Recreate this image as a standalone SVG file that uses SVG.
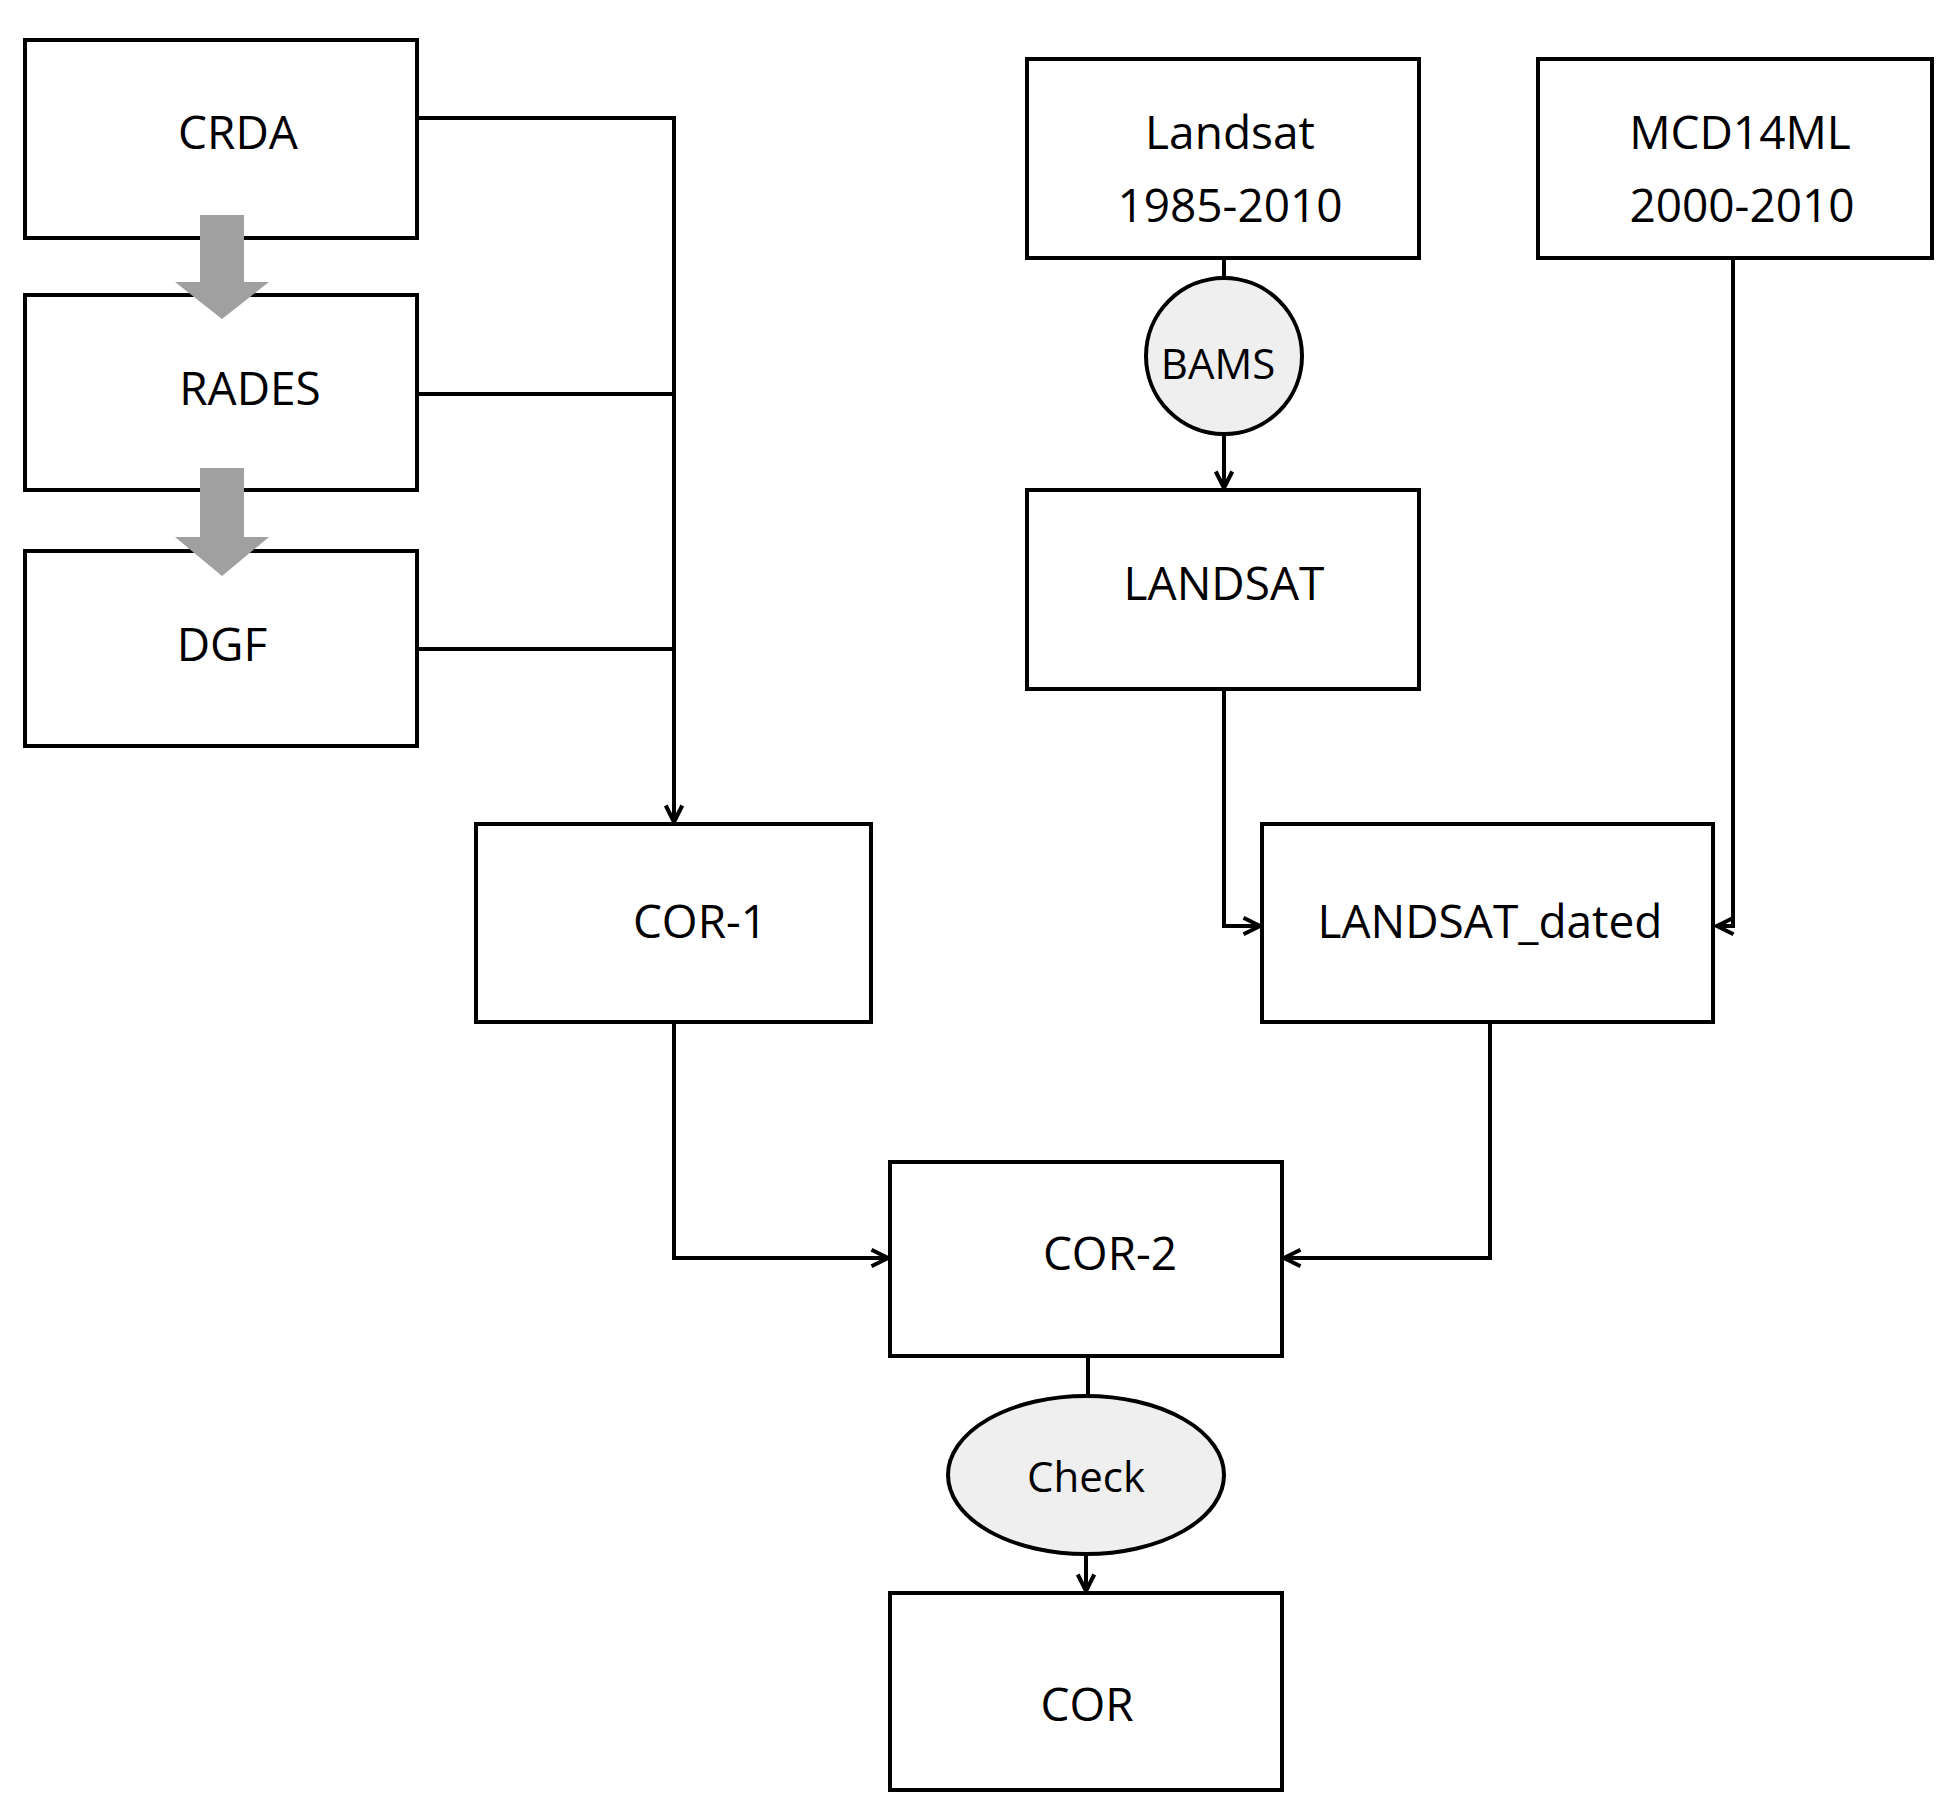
<svg xmlns="http://www.w3.org/2000/svg" width="1953" height="1808" viewBox="0 0 1953 1808">
<style>
.b{fill:#fff;stroke:#000;stroke-width:4}
.e{fill:#efefef;stroke:#000;stroke-width:4}
.t{font-family:"Open Sans","Liberation Sans",sans-serif;font-size:46px;fill:#000;text-anchor:middle;dominant-baseline:central}
.c{fill:none;stroke:#000;stroke-width:4}
.g{fill:#a0a0a0}
</style>
<defs>
<marker id="a" viewBox="0 0 12 12" refX="11" refY="6" markerWidth="22" markerHeight="22" orient="auto" markerUnits="userSpaceOnUse"><path d="M2,1.5 L11,6 L2,10.5" fill="none" stroke="#000" stroke-width="2.2"/></marker>
</defs>
<rect width="1953" height="1808" fill="#fff"/>
<g id="CRDA"><rect class="b" x="25" y="40" width="392" height="198"/><text class="t" x="238" y="131">CRDA</text></g>
<g id="RADES"><rect class="b" x="25" y="295" width="392" height="195"/><text class="t" x="250" y="387">RADES</text></g>
<g id="DGF"><rect class="b" x="25" y="551" width="392" height="195"/><text class="t" x="222" y="643">DGF</text></g>
<g id="gray-arrows">
<polygon class="g" points="200,215 244,215 244,282 269,282 222,319 175,282 200,282"/>
<polygon class="g" points="200,468 244,468 244,537 269,537 222,576 175,537 200,537"/>
</g>
<g id="COR-1"><rect class="b" x="476" y="824" width="395" height="198"/><text class="t" x="700" y="920">COR-1</text></g>
<g id="Landsat"><rect class="b" x="1027" y="59" width="392" height="199"/><text class="t" x="1230" y="131">Landsat</text><text class="t" x="1230" y="204">1985-2010</text></g>
<g id="MCD14ML"><rect class="b" x="1538" y="59" width="394" height="199"/><text class="t" x="1740" y="131">MCD14ML</text><text class="t" x="1742" y="204">2000-2010</text></g>
<g id="BAMS"><circle class="e" cx="1224" cy="356" r="78"/><text class="t" x="1218" y="362" style="font-size:42px">BAMS</text></g>
<g id="LANDSAT"><rect class="b" x="1027" y="490" width="392" height="199"/><text class="t" x="1224" y="582">LANDSAT</text></g>
<g id="LANDSAT_dated"><rect class="b" x="1262" y="824" width="451" height="198"/><text class="t" x="1490" y="920">LANDSAT_dated</text></g>
<g id="COR-2"><rect class="b" x="890" y="1162" width="392" height="194"/><text class="t" x="1110" y="1252">COR-2</text></g>
<g id="Check"><ellipse class="e" cx="1086" cy="1475" rx="138" ry="79"/><text class="t" x="1086" y="1475" style="font-size:42px">Check</text></g>
<g id="COR"><rect class="b" x="890" y="1593" width="392" height="197"/><text class="t" x="1087" y="1703">COR</text></g>
<g id="connectors">
<path class="c" d="M417,118 H674 V822" marker-end="url(#a)"/>
<path class="c" d="M417,394 H674"/>
<path class="c" d="M417,649 H674"/>
<path class="c" d="M1224,258 V278"/>
<path class="c" d="M1224,434 V488" marker-end="url(#a)"/>
<path class="c" d="M1224,689 V926 H1260" marker-end="url(#a)"/>
<path class="c" d="M1733,258 V926 H1717" marker-end="url(#a)"/>
<path class="c" d="M674,1022 V1258 H888" marker-end="url(#a)"/>
<path class="c" d="M1490,1022 V1258 H1284" marker-end="url(#a)"/>
<path class="c" d="M1088,1356 V1396"/>
<path class="c" d="M1086,1554 V1591" marker-end="url(#a)"/>
</g>
</svg>
